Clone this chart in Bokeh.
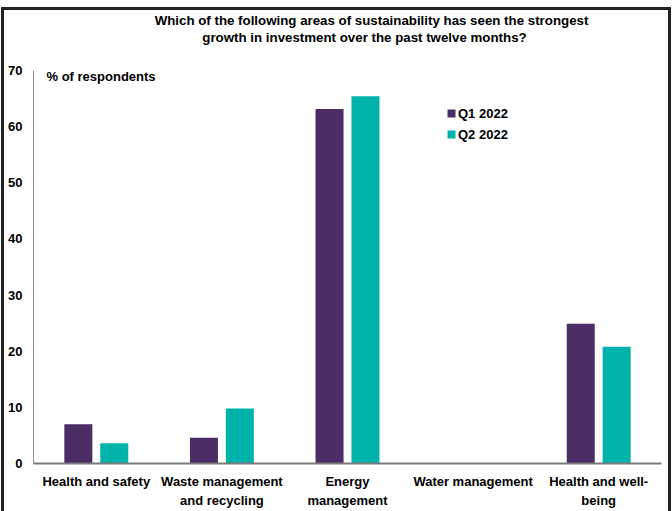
from bokeh.plotting import figure
from bokeh.models import (FactorRange, Label, Legend, LegendItem,
                          Range1d, ColumnDataSource, FixedTicker, InlineStyleSheet)
from bokeh.transform import dodge
from bokeh.embed import file_html
from bokeh.resources import INLINE

# ---- data ----
categories = ["Health and safety", "Waste management\nand recycling",
              "Energy\nmanagement", "Water management", "Health and well-\nbeing"]
q1_2022 = [7.0, 4.6, 63.1, 0.0, 24.9]
q2_2022 = [3.6, 9.8, 65.4, 0.0, 20.8]
series_names = ["Q1 2022", "Q2 2022"]
y_ticks = [0, 10, 20, 30, 40, 50, 60, 70]
title_lines = ["Which of the following areas of sustainability has seen the strongest",
               "growth in investment over the past twelve months?"]
y_unit_label = "% of respondents"

FONT = "Liberation Sans"
FS = "13px"
PURPLE = "#4b2e66"
TEAL = "#00b3aa"

# frame spans from canvas top (y=0) to the x axis (y=464); 70 sits at y=70
Y_TOP = 70 * 464 / 394

src = ColumnDataSource(dict(cat=categories, q1=q1_2022, q2=q2_2022))

p = figure(width=672, height=511, x_range=FactorRange(*categories, range_padding=0),
           y_range=Range1d(0, Y_TOP), output_backend="svg", toolbar_location=None,
           min_border_left=33, min_border_right=11, min_border_top=0,
           min_border_bottom=47)
p.outline_line_color = None
p.xgrid.grid_line_color = None
p.ygrid.grid_line_color = None
p.background_fill_color = "white"
p.border_fill_color = "white"

r1 = p.vbar(x=dodge("cat", -0.143, range=p.x_range), top="q1", width=0.223,
            source=src, fill_color=PURPLE, line_color=None)
r2 = p.vbar(x=dodge("cat", 0.143, range=p.x_range), top="q2", width=0.223,
            source=src, fill_color=TEAL, line_color=None)

# axes
p.yaxis.ticker = FixedTicker(ticks=y_ticks)
p.yaxis.bounds = (0, 70)
p.yaxis.major_tick_line_color = None
p.yaxis.minor_tick_line_color = None
p.yaxis.major_tick_out = 0
p.yaxis.major_label_standoff = 11
p.yaxis.axis_line_color = "#8c8c8c"
p.yaxis.axis_line_width = 1
p.yaxis.major_label_text_font = FONT
p.yaxis.major_label_text_font_style = "bold"
p.yaxis.major_label_text_font_size = FS
p.yaxis.major_label_text_color = "black"

p.xaxis.major_tick_line_color = None
p.xaxis.major_tick_out = 0
p.xaxis.axis_line_color = "#7a7a7a"
p.xaxis.axis_line_width = 2
p.xaxis.major_label_standoff = 10
p.xaxis.major_label_text_font = FONT
p.xaxis.major_label_text_font_style = "bold"
p.xaxis.major_label_text_font_size = FS
p.xaxis.major_label_text_line_height = 1.3
p.xaxis.major_label_text_color = "black"
p.xaxis.major_label_orientation = "horizontal"

# title lines
for t, (tx, ty) in zip(title_lines, [(371, 20), (364, 37)]):
    p.add_layout(Label(x=tx, y=ty, x_units="canvas", y_units="canvas", text=t,
                       text_align="center", text_baseline="middle",
                       text_font=FONT, text_font_style="bold", text_font_size="13.3px",
                       text_color="black"))

p.add_layout(Label(x=46, y=76, x_units="canvas", y_units="canvas", text=y_unit_label,
                   text_align="left", text_baseline="middle", text_font=FONT,
                   text_font_style="bold", text_font_size=FS, text_color="black"))

legend = Legend(items=[LegendItem(label=series_names[0], renderers=[r1]),
                       LegendItem(label=series_names[1], renderers=[r2])],
                location=(413, 321), orientation="vertical",
                glyph_width=10, glyph_height=10, label_height=16, spacing=5,
                label_standoff=2, padding=0, margin=0,
                border_line_color=None, background_fill_alpha=0,
                label_text_font=FONT, label_text_font_style="bold",
                label_text_font_size=FS, label_text_color="black")
p.add_layout(legend)

# outer frame border drawn around the whole chart
p.stylesheets = [InlineStyleSheet(css=(
    ":host::after { content: ''; position: absolute; left: 1px; top: 7px; "
    "width: 670px; height: 504px; border: 3px solid #222; border-bottom: none; "
    "box-sizing: border-box; pointer-events: none; z-index: 10; }"))]

open("out.html", "w").write(file_html(p, INLINE))
